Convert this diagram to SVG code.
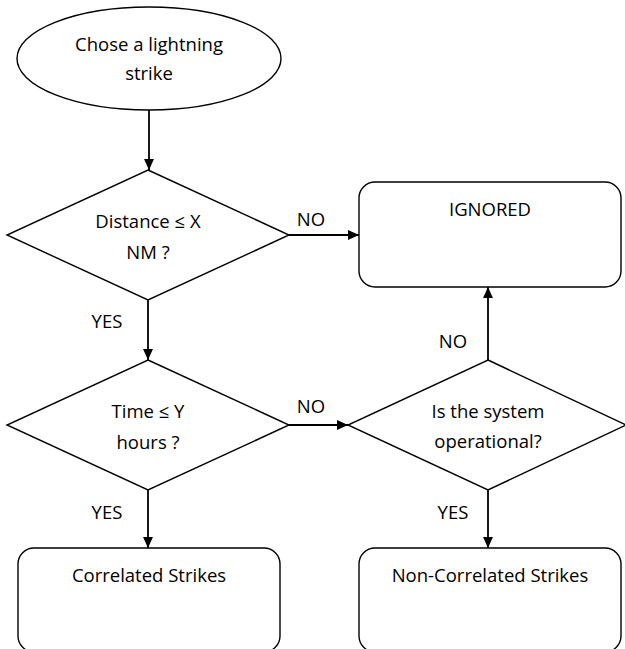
<svg xmlns="http://www.w3.org/2000/svg" width="625" height="649" viewBox="0 0 625 649">
  <style>
    .shape { fill: #ffffff; stroke: #000000; stroke-width: 1.4; }
    .edge { fill: none; stroke: #000000; stroke-width: 1.8; marker-end: url(#arrow); }
    text { font-family: "Open Sans", "Liberation Sans", sans-serif; font-size: 18.5px; fill: #000000; }
    .c { text-anchor: middle; }
  </style>
  <defs>
    <marker id="arrow" viewBox="0 0 10 10" refX="10" refY="5" markerWidth="11" markerHeight="11" markerUnits="userSpaceOnUse" orient="auto">
      <path d="M0,0.5 L10,5 L0,9.5 Z" fill="#000000"/>
    </marker>
  </defs>
  <rect width="625" height="649" fill="#ffffff"/>

  <!-- connectors -->
  <g id="connectors">
    <line class="edge" x1="149" y1="110" x2="149" y2="170"/>
    <line class="edge" x1="148" y1="300" x2="148" y2="360"/>
    <line class="edge" x1="289" y1="235" x2="359" y2="235"/>
    <line class="edge" x1="289" y1="425" x2="348" y2="425"/>
    <line class="edge" x1="488" y1="360" x2="488" y2="287"/>
    <line class="edge" x1="148" y1="490" x2="148" y2="548"/>
    <line class="edge" x1="488" y1="490" x2="488" y2="548"/>
    <text class="c" x="311" y="226">NO</text>
    <text class="c" x="311" y="413">NO</text>
    <text class="c" x="453" y="348">NO</text>
    <text class="c" x="107" y="328">YES</text>
    <text class="c" x="107" y="519">YES</text>
    <text class="c" x="453" y="519">YES</text>
  </g>

  <!-- start -->
  <g id="start">
    <ellipse class="shape" cx="149" cy="58.5" rx="132" ry="51.5"/>
    <text class="c" x="149" y="51">Chose a lightning</text>
    <text class="c" x="149" y="80">strike</text>
  </g>

  <!-- decision: distance -->
  <g id="distance">
    <polygon class="shape" points="148,170 289,235 148,300 7,235"/>
    <text class="c" x="148" y="228">Distance ≤ X</text>
    <text class="c" x="148" y="259">NM ?</text>
  </g>

  <!-- decision: time -->
  <g id="time">
    <polygon class="shape" points="148,360 289,425 148,490 7,425"/>
    <text class="c" x="148" y="418">Time ≤ Y</text>
    <text class="c" x="148" y="449">hours ?</text>
  </g>

  <!-- decision: system operational -->
  <g id="operational">
    <polygon class="shape" points="488,360 626,425 488,490 348,425"/>
    <text class="c" x="488" y="418">Is the system</text>
    <text class="c" x="488" y="448">operational?</text>
  </g>

  <!-- outcome: ignored -->
  <g id="ignored">
    <rect class="shape" x="359" y="182" width="262" height="105" rx="16" ry="16"/>
    <text class="c" x="490" y="216">IGNORED</text>
  </g>

  <!-- outcome: correlated -->
  <g id="correlated">
    <rect class="shape" x="18" y="548" width="262" height="104" rx="16" ry="16"/>
    <text class="c" x="149" y="582">Correlated Strikes</text>
  </g>

  <!-- outcome: non-correlated -->
  <g id="non-correlated">
    <rect class="shape" x="359" y="548" width="262" height="104" rx="16" ry="16"/>
    <text class="c" x="490" y="582">Non-Correlated Strikes</text>
  </g>
</svg>
